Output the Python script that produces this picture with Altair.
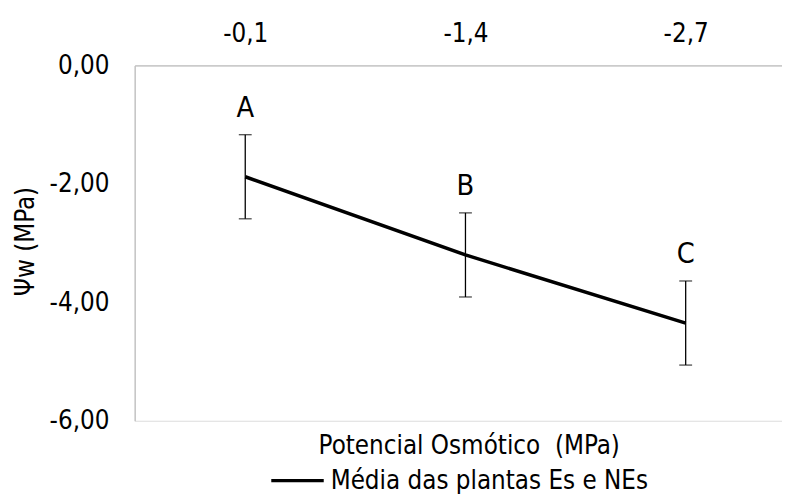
import altair as alt
import pandas as pd

categories = ["-0,1", "-1,4", "-2,7"]
means = [-1.88, -3.20, -4.35]
errors = [0.71, 0.71, 0.71]
letters = ["A", "B", "C"]
series_name = "Média das plantas Es e NEs"
x_title = "Potencial Osmótico\u00a0 (MPa)"
y_title = "Ψw (MPa)"
y_ticks = [0, -2, -4, -6]

df = pd.DataFrame({
    "cat": categories,
    "mean": means,
    "err": errors,
    "letter": letters,
    "serie": [series_name] * len(categories),
})

FONT = "DejaVu Sans Condensed"
W, H = 654, 359
AXIS_GRAY = "#C0C0C0"

x_enc = alt.X(
    "cat:O", sort=categories,
    scale=alt.Scale(type="point", padding=0.4697, align=0.5344, round=False),
    axis=alt.Axis(orient="top", title=None, ticks=False, labelPadding=24,
                  labelBaseline="alphabetic", labelAngle=0, labelFontSize=26,
                  labelFont=FONT, labelColor="#000000", domainColor=AXIS_GRAY,
                  domainWidth=1.3, grid=False),
)

y_scale = alt.Scale(domain=[-6, 0], nice=False, zero=False)
y_axis = alt.Axis(
    values=y_ticks, ticks=False, grid=False, labelPadding=26, labelFlush=False,
    labelOverlap=False,
    labelExpr="(datum.value < 0 ? '-' : '') + replace(format(abs(datum.value), '.2f'), '.', ',')",
    labelFont=FONT, labelFontSize=26, labelColor="#000000",
    domainColor=AXIS_GRAY, domainWidth=1.3,
    title=y_title, titleFont=FONT, titleFontSize=26, titleFontWeight="normal",
    titleColor="#000000", titleX=-110, titleY=177.5, titleAngle=270,
    titleAlign="center", titleBaseline="middle",
)

base = alt.Chart(df).transform_calculate(
    hi="datum.mean + datum.err", lo="datum.mean - datum.err"
)

line = base.mark_line(strokeWidth=3.5, strokeCap="butt").encode(
    x=x_enc,
    y=alt.Y("mean:Q", scale=y_scale, axis=y_axis),
    color=alt.Color(
        "serie:N", scale=alt.Scale(range=["#000000"]),
        legend=alt.Legend(orient="none", legendX=136, legendY=391, title=None,
                          symbolType="stroke", symbolSize=2809,
                          symbolStrokeWidth=3.5, labelFont=FONT,
                          labelFontSize=26, labelColor="#000000",
                          labelOffset=5, labelLimit=0, padding=0),
    ),
)

rule = base.mark_rule(color="#000000", strokeWidth=1.3).encode(
    x=x_enc,
    y=alt.Y("lo:Q", scale=y_scale, axis=y_axis),
    y2="hi:Q",
)

cap_hi = base.mark_tick(color="#000000", size=13, thickness=1.3).encode(
    x=x_enc, y=alt.Y("hi:Q", scale=y_scale, axis=y_axis)
)
cap_lo = base.mark_tick(color="#000000", size=13, thickness=1.3).encode(
    x=x_enc, y=alt.Y("lo:Q", scale=y_scale, axis=y_axis)
)

labels = base.mark_text(font=FONT, fontSize=29, baseline="alphabetic", dy=-18,
                        color="#000000").encode(
    x=x_enc, y=alt.Y("hi:Q", scale=y_scale, axis=y_axis), text="letter:N"
)

xtitle = alt.Chart(pd.DataFrame({"t": [x_title]})).mark_text(
    font=FONT, fontSize=26, baseline="alphabetic", align="center", color="#000000"
).encode(x=alt.value(338), y=alt.value(392.5), text="t:N")

chart = alt.layer(line, rule, cap_hi, cap_lo, labels, xtitle).properties(
    width=W, height=H, autosize="none",
    padding={"left": 128, "top": 55.5, "right": 0, "bottom": 71.5},
).configure_view(stroke=None).configure(background="white")

chart.save("out.html", embed_options={"renderer": "svg", "actions": False})
